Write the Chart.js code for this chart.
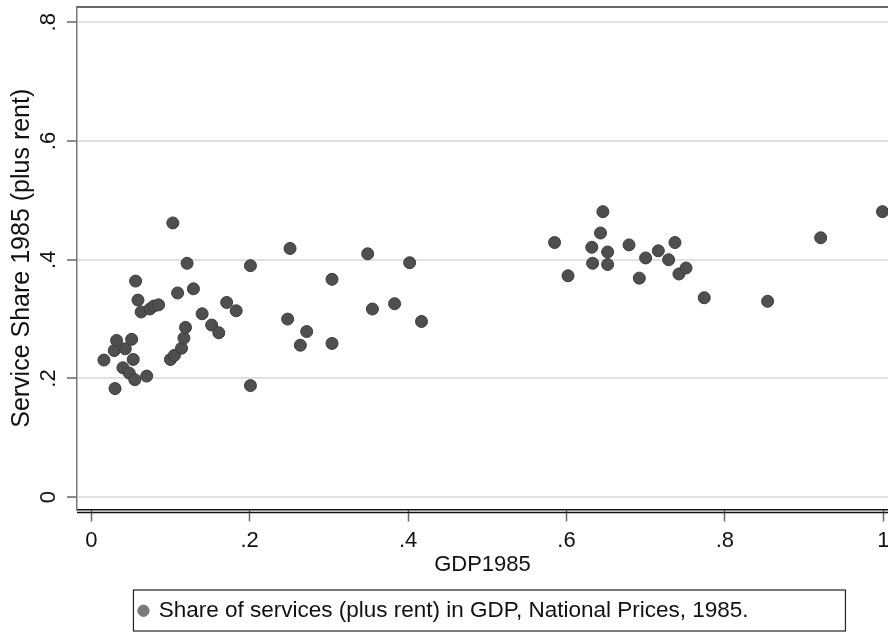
<!DOCTYPE html>
<html>
<head>
<meta charset="utf-8">
<script src="https://cdn.jsdelivr.net/npm/chart.js@4/dist/chart.umd.min.js"></script>
<style>
  body { margin: 0; background: #fff; }
  #wrap { width: 888px; height: 632px; }
</style>
</head>
<body>
<div id="wrap"><canvas id="chart" width="888" height="632"></canvas></div>
<script>
// values
const gdp1985 = [
    0.016, 0.030, 0.029, 0.032, 0.043, 0.040, 0.048, 0.051, 0.053, 0.055,
    0.056, 0.059, 0.063, 0.070, 0.074, 0.079, 0.085, 0.100, 0.105, 0.103,
    0.109, 0.114, 0.117, 0.119, 0.121, 0.129, 0.140, 0.152, 0.161, 0.171,
    0.183, 0.201, 0.201,
    0.248, 0.251, 0.264, 0.272, 0.304, 0.304, 0.349, 0.355, 0.383, 0.402, 0.417,
    0.585, 0.602, 0.632, 0.633, 0.643, 0.646, 0.652, 0.652, 0.679, 0.692,
    0.700, 0.716, 0.729, 0.737, 0.742, 0.751, 0.774, 0.854, 0.921, 0.999
];
const serviceShare = [
    0.231, 0.183, 0.247, 0.264, 0.250, 0.218, 0.209, 0.266, 0.232, 0.198,
    0.364, 0.332, 0.312, 0.204, 0.317, 0.322, 0.324, 0.232, 0.239, 0.462,
    0.344, 0.251, 0.268, 0.286, 0.394, 0.351, 0.309, 0.290, 0.277, 0.328,
    0.314, 0.390, 0.188,
    0.300, 0.419, 0.256, 0.279, 0.367, 0.259, 0.410, 0.317, 0.326, 0.395, 0.296,
    0.429, 0.373, 0.421, 0.394, 0.445, 0.481, 0.413, 0.392, 0.425, 0.369,
    0.403, 0.415, 0.400, 0.429, 0.376, 0.386, 0.336, 0.330, 0.437, 0.481
];

const xTickValues = [0, 0.2, 0.4, 0.6, 0.8, 1];
const xTickLabels = ["0", ".2", ".4", ".6", ".8", "1"];
const yTickValues = [0, 0.2, 0.4, 0.6, 0.8];
const yTickLabels = ["0", ".2", ".4", ".6", ".8"];

const seriesLabel = "Share of services (plus rent) in GDP, National Prices, 1985.";
const xTitle = "GDP1985";
const yTitle = "Service Share 1985 (plus rent)";

const FONT = "'Liberation Sans', Arial, sans-serif";

// frame line on top, second axis line under the plot, and the legend box
const framePlugin = {
    id: "frame",
    afterDraw(chart) {
        const { ctx, chartArea: a, legend } = chart;
        ctx.save();
        ctx.strokeStyle = "#6a6a6a";
        ctx.lineWidth = 2;
        ctx.beginPath();
        ctx.moveTo(a.left, a.top);
        ctx.lineTo(a.right, a.top);
        ctx.stroke();

        ctx.strokeStyle = "#111";
        ctx.lineWidth = 1.5;
        ctx.beginPath();
        ctx.moveTo(a.left, a.bottom + 3);
        ctx.lineTo(a.right, a.bottom + 3);
        ctx.stroke();

        if (legend && legend.legendHitBoxes.length) {
            const hb = legend.legendHitBoxes[0];
            ctx.strokeStyle = "#222";
            ctx.lineWidth = 1.2;
            ctx.strokeRect(hb.left - 6, legend.top + 0.5, 712, legend.bottom - legend.top - 1.5);
        }
        ctx.restore();
    }
};

const ctx = document.getElementById("chart").getContext("2d");
const chart = new Chart(ctx, {
    type: "scatter",
    data: {
        datasets: [{
            label: seriesLabel,
            data: gdp1985.map((x, i) => ({ x: x, y: serviceShare[i] })),
            backgroundColor: "#4f4f4f",
            borderColor: "#3c3c3c",
            borderWidth: 1,
            pointRadius: 6,
            pointHoverRadius: 6
        }]
    },
    options: {
        responsive: false,
        animation: false,
        layout: { autoPadding: false, padding: { top: 7, left: 0, right: 0, bottom: 0 } },
        plugins: {
            tooltip: { enabled: false },
            legend: {
                position: "bottom",
                labels: {
                    usePointStyle: true,
                    pointStyle: "circle",
                    boxWidth: 8,
                    boxHeight: 8,
                    padding: 10,
                    color: "#111",
                    font: { family: FONT, size: 22.5 },
                    generateLabels(chart) {
                        const items = Chart.defaults.plugins.legend.labels.generateLabels(chart);
                        items.forEach(it => { it.fillStyle = "#7a7a7a"; it.strokeStyle = "#7a7a7a"; });
                        return items;
                    }
                }
            }
        },
        scales: {
            x: {
                type: "linear",
                min: -0.018,
                max: 1.006,
                afterBuildTicks(scale) { scale.ticks = xTickValues.map(v => ({ value: v })); },
                afterFit(scale) {
                    scale.height = 80;
                    scale.paddingLeft = 0;
                    scale.paddingRight = 0;
                },
                ticks: {
                    padding: 8,
                    color: "#111",
                    font: { family: FONT, size: 22, lineHeight: 1 },
                    callback: (v, i) => xTickLabels[i]
                },
                grid: {
                    drawOnChartArea: false,
                    tickLength: 12,
                    tickColor: "#666",
                    tickWidth: 1.5
                },
                border: { display: true, color: "#111", width: 1.5 },
                title: {
                    display: true,
                    text: xTitle,
                    color: "#111",
                    font: { family: FONT, size: 22, lineHeight: 1 },
                    padding: { top: 0, bottom: 14 }
                }
            },
            y: {
                type: "linear",
                min: -0.0207,
                max: 0.8257,
                afterBuildTicks(scale) { scale.ticks = yTickValues.map(v => ({ value: v })); },
                afterFit(scale) {
                    scale.width = 77;
                    scale.paddingTop = 0;
                    scale.paddingBottom = 0;
                },
                ticks: {
                    minRotation: 90,
                    maxRotation: 90,
                    crossAlign: "center",
                    padding: 9,
                    color: "#111",
                    font: { family: FONT, size: 22, lineHeight: 1 },
                    callback: (v, i) => yTickLabels[i]
                },
                grid: {
                    color: "#e1e1e1",
                    lineWidth: 2,
                    tickLength: 10,
                    tickColor: "#666",
                    tickWidth: 1.5
                },
                border: { display: true, color: "#777", width: 1.5 },
                title: {
                    display: true,
                    text: yTitle,
                    color: "#111",
                    font: { family: FONT, size: 25, lineHeight: 1 },
                    padding: { top: 10, bottom: 0 }
                }
            }
        }
    },
    plugins: [framePlugin]
});
</script>
</body>
</html>
